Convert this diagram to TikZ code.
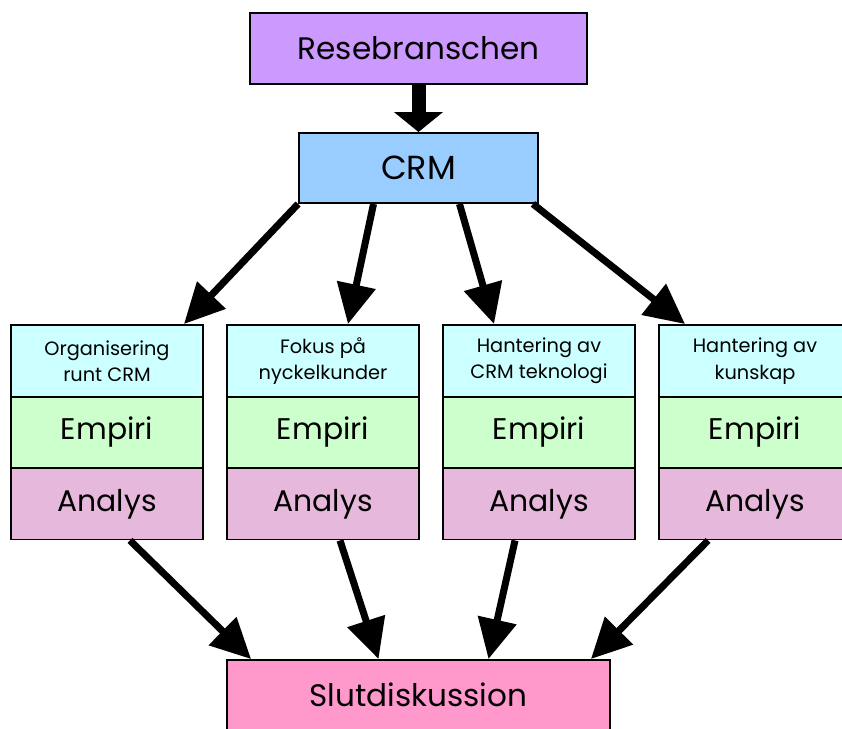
\documentclass[tikz,border=0pt]{standalone}
\usepackage{fontspec}
\setmainfont{Poppins}
\usetikzlibrary{arrows.meta}
\definecolor{lila}{HTML}{CC99FF}
\definecolor{ljusbla}{HTML}{99CCFF}
\definecolor{cyanlj}{HTML}{CCFFFF}
\definecolor{gronlj}{HTML}{CCFFCC}
\definecolor{rosalj}{HTML}{E6B8DC}
\definecolor{rosa}{HTML}{FF99CC}
\tikzset{
  ruta/.style={draw=black,line width=1.1pt,inner sep=0pt,align=center},
  stor/.style={ruta,font=\fontsize{17.7}{21}\selectfont},
  rubrik/.style={ruta,fill=cyanlj,minimum width=3.84cm,minimum height=1.44cm,font=\fontsize{11}{15}\selectfont},
  mitt/.style={ruta,minimum width=3.84cm,minimum height=1.42cm,font=\fontsize{17}{20}\selectfont},
  pil/.style={line width=4pt,-{Triangle[length=0.8cm,width=0.76cm]}}
}
\begin{document}
\begin{tikzpicture}[x=0.02cm,y=-0.02cm]
	\useasboundingbox (0,0) rectangle (842,729);
	% topp
	\node[stor,fill=lila,minimum width=6.74cm,minimum height=1.42cm] (rese) at (418.5,48.5) {Resebranschen};
	\node[stor,fill=ljusbla,minimum width=4.78cm,minimum height=1.4cm,font=\fontsize{19}{22}\selectfont] (crm) at (418.5,168) {CRM};
	\draw[line width=0.28cm,-{Triangle[length=0.4cm,width=0.96cm]}] (rese.south) -- (crm.north);
	% kolumner
	\foreach \i/\x/\txt in {1/107/{Organisering\\runt CRM},2/323/{Fokus på\\nyckelkunder},3/539/{Hantering av\\CRM teknologi},4/755/{Hantering av\\kunskap}}{
		\node[rubrik] (h\i) at (\x,361) {\txt};
		\node[mitt,fill=gronlj] (e\i) at (\x,432.5) {Empiri};
		\node[mitt,fill=rosalj] (a\i) at (\x,504) {Analys};
	}
	\node[stor,fill=rosa,minimum width=7.66cm,minimum height=1.4cm] (slut) at (418.5,695) {Slutdiskussion};
	% pilar
	\draw[pil] (crm.south west) -- ([xshift=-0.4cm]h1.north east);
	\draw[pil] ([xshift=-0.9cm]crm.south) -- ([xshift=0.5cm]h2.north);
	\draw[pil] ([xshift=0.82cm]crm.south) -- ([xshift=-0.9cm]h3.north);
	\draw[pil] ([xshift=-0.12cm]crm.south east) -- ([xshift=0.54cm]h4.north west);
	\draw[pil] ([xshift=0.46cm]a1.south) -- ([xshift=0.5cm]slut.north west);
	\draw[pil] ([xshift=0.34cm]a2.south) -- ([xshift=-0.8cm]slut.north);
	\draw[pil] ([xshift=-0.48cm]a3.south) -- ([xshift=1.4cm]slut.north);
	\draw[pil] ([xshift=-0.94cm]a4.south) -- ([xshift=-0.4cm]slut.north east);
\end{tikzpicture}
\end{document}
